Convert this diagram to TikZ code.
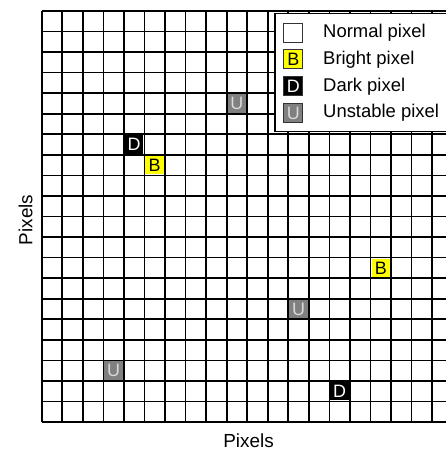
\documentclass[tikz,border=0pt]{standalone}
\usepackage{fontspec}
\setmainfont{Liberation Sans}
\usetikzlibrary{positioning}
\definecolor{PixYellow}{rgb}{1,1,0}
\definecolor{PixGray}{rgb}{0.5,0.5,0.5}
\definecolor{PixLight}{rgb}{0.85,0.85,0.85}

\begin{document}
\begin{tikzpicture}[
    x=1bp, y=-1bp,
    gridline/.style={line width=1.7bp, black},
    pix/.style={minimum size=18.5bp, inner sep=0pt, font=\fontsize{18}{18}\selectfont},
    bright/.style={pix, fill=PixYellow, text=black},
    dark/.style={pix, fill=black, text=white},
    unstable/.style={pix, fill=PixGray, text=PixLight},
    normal/.style={pix, fill=white},
    legsquare/.style={draw=black!80, line width=1bp, minimum size=19bp},
    legbox/.style={draw=black, line width=1.8bp, fill=white, anchor=north west,
        minimum width=200bp, minimum height=118bp},
    legtext/.style={anchor=west, inner sep=0pt, font=\fontsize{18.5}{20}\selectfont},
    axis/.style={font=\fontsize{19}{20}\selectfont, inner sep=0pt},
]
\useasboundingbox (0,0) rectangle (446,452);
\clip (0,0) rectangle (446,452);

\def\cell{20.55}
\def\gx{41.7}
\def\gy{11}

% --- grid ---
\foreach \i in {0,...,20} {
    \draw[gridline] ({\gx+\i*\cell},\gy) -- ({\gx+\i*\cell},{\gy+20*\cell});
    \draw[gridline] (\gx,{\gy+\i*\cell}) -- ({\gx+20*\cell},{\gy+\i*\cell});
}

% --- faulty pixels ---
\foreach \c/\r/\kind/\txt/\name in {4/6/dark/D/d1, 5/7/bright/B/b1, 9/4/unstable/U/u1,
        16/12/bright/B/b2, 12/14/unstable/U/u2, 14/18/dark/D/d2, 3/17/unstable/U/u3}
    \node[\kind] (\name) at ({\gx+(\c+0.5)*\cell},{\gy+(\r+0.5)*\cell}) {\txt};

% --- legend ---
\node[legbox] (legend) at (274,12.7) {};
\node[normal, legsquare] (lnormal) at (293.3,32.7) {};
\node[bright, legsquare] (lbright) at (293.3,59.5) {B};
\node[dark, legsquare] (ldark) at (293.3,86.3) {D};
\node[unstable, legsquare] (lunstable) at (293.3,113) {U};
\node[legtext] (tnormal) at (323,32.7) {Normal pixel};
\node[legtext] (tbright) at (323,59.5) {Bright pixel};
\node[legtext] (tdark) at (323,86.3) {Dark pixel};
\node[legtext] (tunstable) at (323,113) {Unstable pixel};

% --- axis labels ---
\node[axis] (xlab) at (248.5,441) {Pixels};
\node[axis, rotate=90] (ylab) at (25.5,220) {Pixels};
\end{tikzpicture}
\end{document}
